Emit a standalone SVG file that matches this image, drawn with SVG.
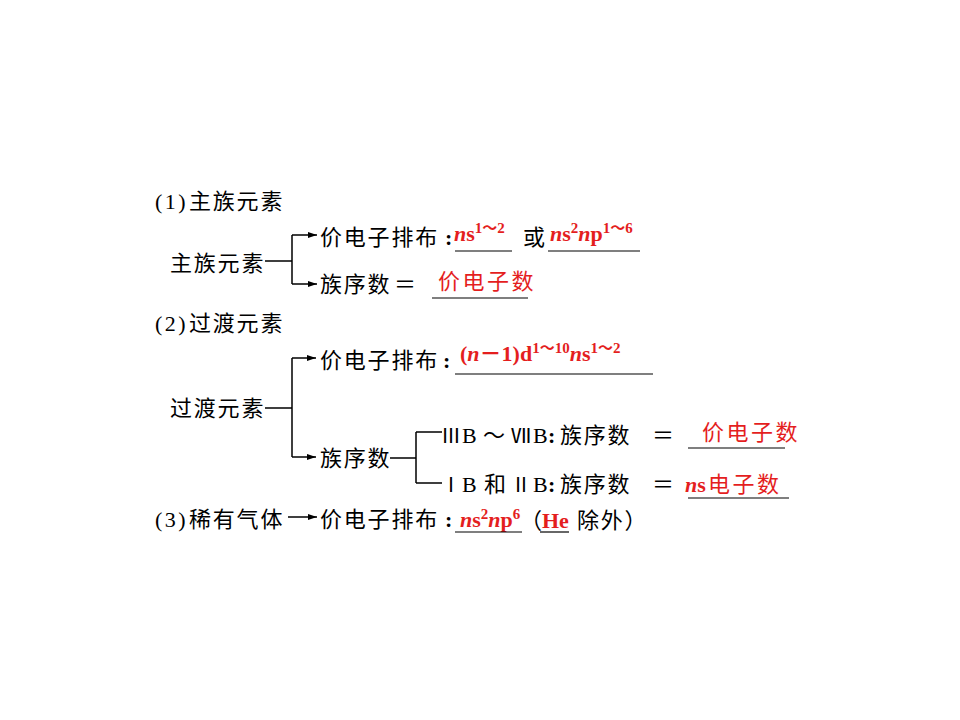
<svg xmlns="http://www.w3.org/2000/svg" width="960" height="720" viewBox="0 0 960 720">
<style>
.cn{font-family:"Noto Sans CJK SC","Noto Sans CJK JP",sans-serif;font-size:22px;letter-spacing:1.8px;fill:#000}
.rn{font-family:"Noto Sans CJK SC","Noto Sans CJK JP",sans-serif;font-size:20px;letter-spacing:0}
.lt{font-family:"Liberation Serif","DejaVu Serif","Noto Sans CJK SC",serif;font-size:22px;fill:#000}
.b{font-family:"Liberation Serif",serif;font-size:22px;letter-spacing:0}
.num{letter-spacing:2.5px}
.col{font-family:"Liberation Serif",serif;font-size:22px;font-weight:bold;fill:#000}
.rc{font-family:"Noto Sans CJK SC",sans-serif;font-size:22px;letter-spacing:2.5px;fill:#e41e1e}
.rl{font-family:"Liberation Serif","Noto Sans CJK SC",serif;font-size:22px;font-weight:bold;fill:#e41e1e}
.i{font-style:italic}
.sup{font-size:15px}
.ln{stroke:#000;stroke-width:1.5;fill:none}
.ul{stroke:#000;stroke-width:1.2}
</style>
<defs>
<marker id="arr" markerUnits="userSpaceOnUse" markerWidth="10" markerHeight="8" refX="9" refY="4" orient="auto">
<path d="M0,1 L9,4 L0,7 z" fill="#000"/>
</marker>
</defs>
<rect width="960" height="720" fill="#fff"/>

<g id="connectors">
<path class="ln" d="M265,261 H292 M292,235 V284"/>
<path class="ln" d="M292,235 H317" marker-end="url(#arr)"/>
<path class="ln" d="M292,284 H317" marker-end="url(#arr)"/>
<path class="ln" d="M265,408 H292 M292,358 V457"/>
<path class="ln" d="M292,358 H316" marker-end="url(#arr)"/>
<path class="ln" d="M292,457 H316" marker-end="url(#arr)"/>
<path class="ln" d="M390,458 H416 M416,432 V483 M416,432 H442 M416,483 H442"/>
<path class="ln" d="M288,517 H317" marker-end="url(#arr)"/>
</g>

<g id="title-main">
<text class="lt num" x="155" y="209">(1)</text>
<text class="cn" x="189" y="209">主族元素</text>
</g>
<g id="node-main">
<text class="cn" x="170" y="271">主族元素</text>
</g>
<g id="node-main-valence">
<text class="cn" x="320" y="245">价电子排布</text>
<text class="col" x="445" y="245">:</text>
<text class="rl" x="454" y="241"><tspan class="i">n</tspan>s<tspan class="sup" dy="-8">1～2</tspan></text>
<text class="cn" x="523" y="245">或</text>
<text class="rl" x="550" y="241"><tspan class="i">n</tspan>s<tspan class="sup" dy="-8">2</tspan><tspan class="i" dy="8">n</tspan>p<tspan class="sup" dy="-8">1～6</tspan></text>
<line class="ul" x1="455" y1="251" x2="512" y2="251"/>
<line class="ul" x1="548" y1="251" x2="640" y2="251"/>
</g>
<g id="node-main-group">
<text class="cn" x="320" y="292">族序数</text>
<text class="cn" x="394" y="292">＝</text>
<text class="rc" x="438" y="289">价电子数</text>
<line class="ul" x1="432" y1="298" x2="528" y2="298"/>
</g>

<g id="title-transition">
<text class="lt num" x="155" y="331">(2)</text>
<text class="cn" x="189" y="331">过渡元素</text>
</g>
<g id="node-transition">
<text class="cn" x="170" y="416">过渡元素</text>
</g>
<g id="node-transition-valence">
<text class="cn" x="320" y="368">价电子排布</text>
<text class="col" x="443" y="368">:</text>
<text class="rl" x="460" y="361">(<tspan class="i">n</tspan>－1)d<tspan class="sup" dy="-8">1～10</tspan><tspan class="i" dy="8">n</tspan>s<tspan class="sup" dy="-8">1～2</tspan></text>
<line class="ul" x1="455" y1="374" x2="653" y2="374"/>
</g>
<g id="node-transition-group">
<text class="cn" x="320" y="466">族序数</text>
</g>
<g id="node-b3-b7">
<text class="cn" y="443"><tspan class="rn" x="441">Ⅲ</tspan><tspan class="b" x="462">B</tspan><tspan style="letter-spacing:0" x="483">～</tspan><tspan class="rn" x="511">Ⅶ</tspan><tspan class="b" x="533">B</tspan><tspan class="col" x="548">:</tspan><tspan x="560">族序数</tspan><tspan x="652" style="letter-spacing:0">＝</tspan></text>
<text class="rc" x="702" y="440">价电子数</text>
<line class="ul" x1="688" y1="448" x2="785" y2="448"/>
</g>
<g id="node-b1-b2">
<text class="cn" y="492"><tspan class="rn" x="441">Ⅰ</tspan><tspan class="b" x="462">B</tspan><tspan style="letter-spacing:0" x="484">和</tspan><tspan class="rn" x="511">Ⅱ</tspan><tspan class="b" x="533">B</tspan><tspan class="col" x="548">:</tspan><tspan x="560">族序数</tspan><tspan x="652" style="letter-spacing:0">＝</tspan></text>
<text class="rl" x="685" y="492"><tspan class="i">n</tspan>s</text>
<text class="rc" x="708" y="492">电子数</text>
<line class="ul" x1="688" y1="498" x2="789" y2="498"/>
</g>

<g id="node-noble">
<text class="lt num" x="155" y="527">(3)</text>
<text class="cn" x="189" y="527">稀有气体</text>
</g>
<g id="node-noble-valence">
<text class="cn" x="320" y="527">价电子排布</text>
<text class="col" x="445" y="527">:</text>
<text class="rl" x="460" y="527"><tspan class="i">n</tspan>s<tspan class="sup" dy="-8">2</tspan><tspan class="i" dy="8">n</tspan>p<tspan class="sup" dy="-8">6</tspan></text>
<text class="cn" x="520" y="528">（</text>
<text class="rl" x="542" y="528">He</text>
<text class="cn" x="577" y="528">除外）</text>
<line class="ul" x1="455" y1="532" x2="522" y2="532"/>
<line class="ul" x1="540" y1="532" x2="569" y2="532"/>
</g>
</svg>
